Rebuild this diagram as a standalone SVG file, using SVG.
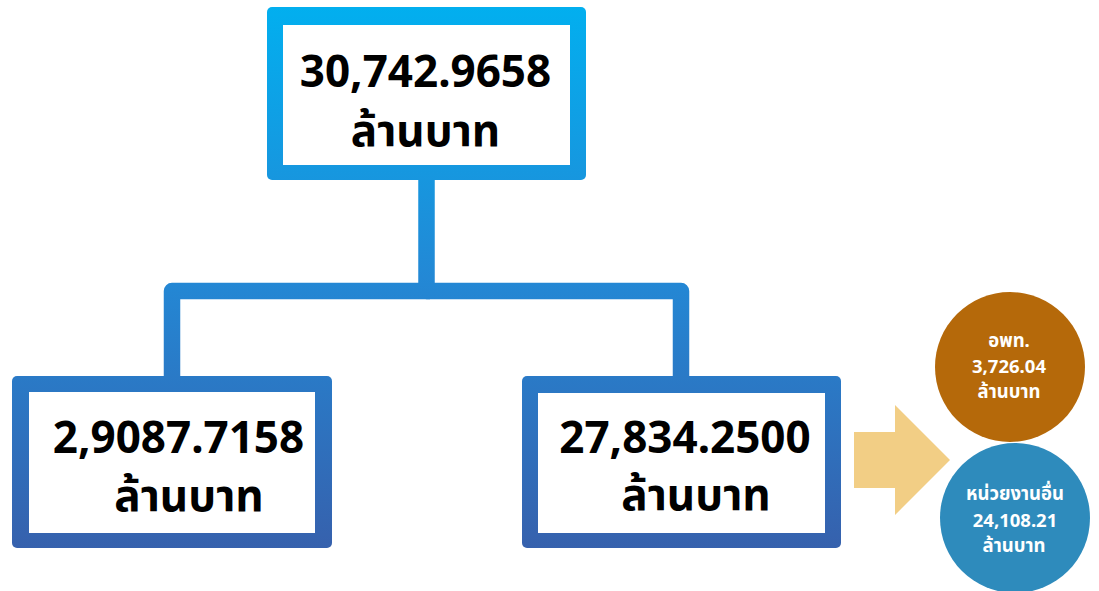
<svg xmlns="http://www.w3.org/2000/svg" width="1099" height="591" viewBox="0 0 1099 591">
  <defs>
    <linearGradient id="blueGrad" gradientUnits="userSpaceOnUse" x1="0" y1="7" x2="0" y2="548">
      <stop offset="0" stop-color="#02AFEF"/>
      <stop offset="0.5" stop-color="#2388D5"/>
      <stop offset="1" stop-color="#3661AD"/>
    </linearGradient>
    <style>
      .frame { fill: url(#blueGrad); }
      .inner { fill: #FFFFFF; }
      .conn { fill: none; stroke: url(#blueGrad); stroke-width: 16.5; stroke-linejoin: round; }
      .big { font-family: "Noto Sans", "Noto Sans Thai", "DejaVu Sans", sans-serif; font-weight: bold; font-size: 44px; fill: #000000; text-anchor: middle; }
      .small { font-family: "Noto Sans", "Noto Sans Thai", "DejaVu Sans", sans-serif; font-weight: bold; font-size: 18.5px; fill: #FFFFFF; text-anchor: middle; }
    </style>
  </defs>
  <rect width="1099" height="591" fill="#FFFFFF"/>

  <g id="connectors">
    <path class="conn" d="M426.5,172 V291 H681 V380"/>
    <path class="conn" d="M172,380 V291 H430"/>
  </g>

  <g id="node-total">
    <rect class="frame" x="267" y="7" width="319" height="173" rx="5"/>
    <rect class="inner" x="283" y="25" width="287" height="140"/>
    <text class="big" x="425.5" y="87">30,742.9658</text>
    <text class="big" x="425.5" y="146">ล้านบาท</text>
  </g>

  <g id="node-left">
    <rect class="frame" x="12" y="376" width="320" height="172" rx="5"/>
    <rect class="inner" x="29" y="392" width="286" height="141"/>
    <text class="big" x="178.5" y="453">2,9087.7158</text>
    <text class="big" x="189" y="511">ล้านบาท</text>
  </g>

  <g id="node-right">
    <rect class="frame" x="522" y="376" width="319" height="172" rx="5"/>
    <rect class="inner" x="538" y="393" width="287" height="140"/>
    <text class="big" x="685" y="453">27,834.2500</text>
    <text class="big" x="696" y="510">ล้านบาท</text>
  </g>

  <g id="arrow">
    <polygon points="854,432 895,432 895,405 950,460 895,515 895,488 854,488" fill="#F2CE85"/>
  </g>

  <g id="node-dasta">
    <circle cx="1010" cy="367" r="75" fill="#B5690A"/>
    <text class="small" x="1009" y="347">อพท.</text>
    <text class="small" x="1009" y="373">3,726.04</text>
    <text class="small" x="1009" y="398">ล้านบาท</text>
  </g>

  <g id="node-others">
    <circle cx="1015" cy="518" r="75" fill="#2E8BBC"/>
    <text class="small" x="1015" y="500">หน่วยงานอื่น</text>
    <text class="small" x="1015" y="527">24,108.21</text>
    <text class="small" x="1014" y="552">ล้านบาท</text>
  </g>
</svg>
